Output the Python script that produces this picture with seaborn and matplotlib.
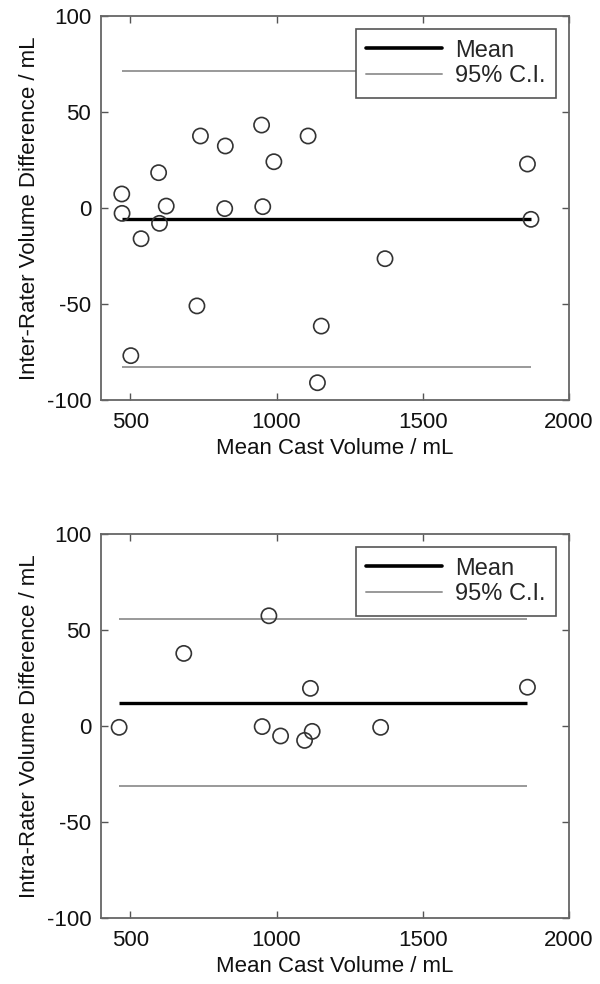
import matplotlib
matplotlib.use("Agg")
import matplotlib.pyplot as plt
import seaborn as sns
import pandas as pd
from matplotlib.lines import Line2D

sns.set_theme(style="white")
plt.rcParams['font.family'] = ['Liberation Sans', 'DejaVu Sans']

# Inter-rater data
inter_x = [471, 472, 537, 597, 600, 623, 740, 728, 825, 823, 949, 953, 991, 1108,
           502, 1153, 1140, 1371, 1858, 1870]
inter_y = [7.3, -2.8, -16, 18.4, -8, 1.0, 37.5, -51, 32.3, -0.3, 43.2, 0.7, 24.1, 37.5,
           -76.9, -61.5, -91, -26.4, 22.9, -5.9]
inter_mean = -5.6
inter_ci = [71.4, -82.6]

# Intra-rater data
intra_x = [462, 683, 974, 951, 1014, 1096, 1116, 1122, 1356, 1858]
intra_y = [-0.7, 37.8, 57.4, -0.3, -5.2, -7.5, 19.6, -2.8, -0.7, 20.2]
intra_mean = 12.2
intra_ci = [55.6, -31.2]

x_ticks = [500, 1000, 1500, 2000]
y_ticks = [-100, -50, 0, 50, 100]

fig = plt.figure(figsize=(6, 9.84), dpi=100)
ax1 = fig.add_axes([101/600, 1-400/984, 468/600, 384/984])
ax2 = fig.add_axes([101/600, 1-918/984, 468/600, 384/984])

panels = [
    (ax1, inter_x, inter_y, inter_mean, inter_ci, "Inter-Rater Volume Difference / mL"),
    (ax2, intra_x, intra_y, intra_mean, intra_ci, "Intra-Rater Volume Difference / mL"),
]

for ax, xs, ys, m, ci, ylab in panels:
    xmin, xmax = min(xs), max(xs)
    for v in ci:
        ax.hlines(v, xmin, xmax, color="#999999", lw=1.4, zorder=1)
    ax.hlines(m, xmin, xmax, color="black", lw=2.4, zorder=2)
    df = pd.DataFrame({"x": xs, "y": ys})
    sns.scatterplot(data=df, x="x", y="y", ax=ax, s=120, facecolor="none",
                    edgecolor="#333333", linewidth=1.2, zorder=3)
    ax.set_xlim(400, 2000)
    ax.set_ylim(-100, 100)
    ax.set_xticks(x_ticks)
    ax.set_yticks(y_ticks)
    ax.set_xticklabels([str(t) for t in x_ticks])
    ax.set_yticklabels([str(t) for t in y_ticks])
    ax.tick_params(direction="in", length=5, width=1, color="#555555",
                   top=True, right=True, labelsize=16, labelcolor="#111111", pad=7)
    ax.tick_params(axis="x", bottom=True, pad=9)
    ax.tick_params(axis="y", left=True)
    for sp in ax.spines.values():
        sp.set_color("#666666")
        sp.set_linewidth(1.3)
    ax.set_xlabel("Mean Cast Volume / mL", fontsize=16, color="#111111", labelpad=3)
    ax.set_ylabel(ylab, fontsize=16, color="#111111", labelpad=5)
    handles = [Line2D([], [], color="black", lw=2.6),
               Line2D([], [], color="#999999", lw=1.4)]
    leg = ax.legend(handles, ["Mean", "95% C.I."], loc="upper right", fontsize=17,
                    frameon=True, fancybox=False, framealpha=1, edgecolor="#555555",
                    borderpad=0.45, handlelength=3.2, handletextpad=0.55,
                    labelspacing=0.15, borderaxespad=0.55)
    leg.get_frame().set_linewidth(1.2)

fig.savefig("out.png", dpi=100)
